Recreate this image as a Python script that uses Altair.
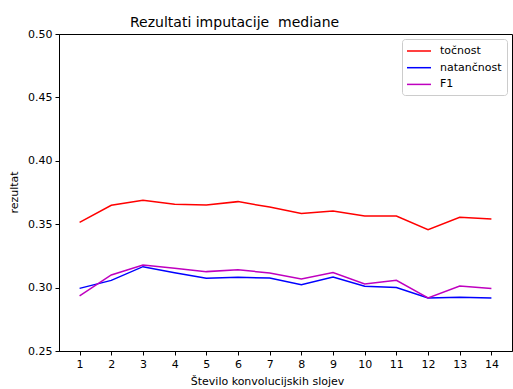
import altair as alt
import pandas as pd

layers = list(range(1, 15))
tocnost = [0.3515, 0.3649, 0.3688, 0.3657, 0.3651, 0.3678, 0.3635, 0.3585, 0.3604, 0.3565, 0.3565, 0.3457, 0.3554, 0.3541]
natancnost = [0.2994, 0.3057, 0.3165, 0.3118, 0.3073, 0.3081, 0.3076, 0.3023, 0.3084, 0.3010, 0.3000, 0.2918, 0.2923, 0.2918]
f1 = [0.2934, 0.3100, 0.3178, 0.3152, 0.3126, 0.3141, 0.3115, 0.3068, 0.3118, 0.3028, 0.3057, 0.2918, 0.3013, 0.2992]

series_names = ["točnost", "natančnost", "F1"]
series_colors = ["#ff0000", "#0000ff", "#bf00bf"]

rows = []
for name, vals in zip(series_names, [tocnost, natancnost, f1]):
    for x, v in zip(layers, vals):
        rows.append({"x": x, "v": v, "s": name})
df = pd.DataFrame(rows)

FONT = "DejaVu Sans"

chart = alt.Chart(df).mark_line(strokeWidth=1.5).encode(
    x=alt.X("x:Q",
            scale=alt.Scale(domain=[0.35, 14.65], nice=False, zero=False),
            axis=alt.Axis(values=layers, format="d", title="Število konvolucijskih slojev",
                          grid=False, domainColor="black", tickColor="black",
                          tickSize=4, labelFontSize=11, labelColor="black", labelPadding=3,
                          titleFontSize=11, titleFontWeight="normal", titleColor="black",
                          titleX=208, titleY=30, titleBaseline="middle", titleAlign="center",
                          labelFont=FONT, titleFont=FONT)),
    y=alt.Y("v:Q",
            scale=alt.Scale(domain=[0.25, 0.50], nice=False, zero=False),
            axis=alt.Axis(values=[0.25, 0.30, 0.35, 0.40, 0.45, 0.50], format=".2f", title="rezultat",
                          grid=False, domainColor="black", tickColor="black",
                          tickSize=4, labelFontSize=11, labelColor="black", labelPadding=3,
                          titleFontSize=11, titleFontWeight="normal", titleColor="black",
                          titleX=-45, titleY=158, titleAngle=270, titleBaseline="middle",
                          titleAlign="center", labelFont=FONT, titleFont=FONT)),
    color=alt.Color("s:N",
                    scale=alt.Scale(domain=series_names, range=series_colors),
                    legend=alt.Legend(title=None, orient="none", legendX=343, legendY=5,
                                      symbolType="M-2,0H2", symbolSize=144, symbolStrokeWidth=1.5,
                                      symbolFillColor="transparent",
                                      labelFontSize=11, labelFont=FONT, labelColor="black",
                                      strokeColor="#cccccc", fillColor="white", cornerRadius=3,
                                      padding=5, rowPadding=4.7, labelOffset=14,
                                      symbolOffset=5)),
).properties(
    width=453,
    height=317,
    title=alt.TitleParams("Rezultati imputacije\u00a0 mediane", anchor="start", dx=71, dy=2, frame="group",
                          fontSize=14, font=FONT, fontWeight="normal", color="black", offset=0),
    autosize=alt.AutoSizeParams(type="none"),
    padding={"left": 59, "top": 34, "right": 1, "bottom": 38},
).configure_view(stroke="black", strokeWidth=1)

chart.save("out.html", embed_options={"renderer": "svg", "actions": False})
